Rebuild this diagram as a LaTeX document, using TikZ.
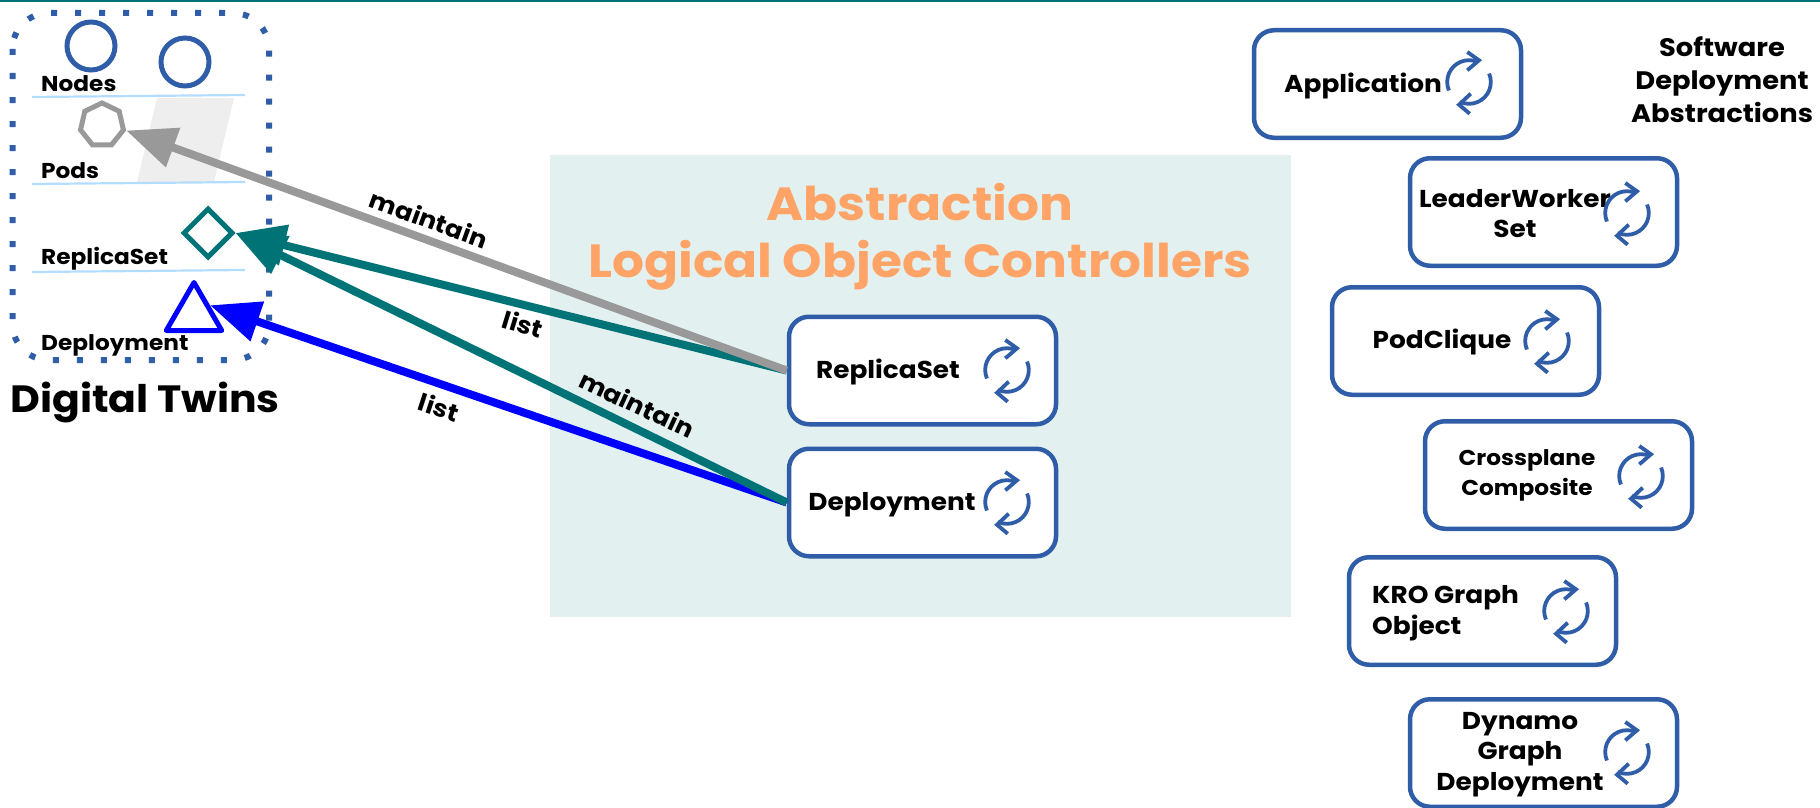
\documentclass[tikz,border=0pt]{standalone}
\usepackage{fontspec}
\setmainfont[FakeStretch=1.08]{Poppins}
\usetikzlibrary{arrows.meta,shapes.geometric}
\definecolor{bluebox}{HTML}{2F5DA8}
\definecolor{tealc}{HTML}{007377}
\definecolor{panel}{HTML}{E3F0F0}
\definecolor{sep}{HTML}{B3DDFF}
\definecolor{greyc}{HTML}{999999}
\definecolor{para}{HTML}{EEEEEE}
\definecolor{orangec}{HTML}{FFA366}
\definecolor{bluec}{HTML}{0000FF}
\tikzset{
  x=1pt,y=1pt,
  ctrl/.style={draw=bluebox,line width=4.5pt,rounded corners=20pt,fill=white,minimum width=267pt,minimum height=107.5pt,inner sep=0pt},
  lbl/.style={font=\fontsize{24.4}{30.7}\selectfont\bfseries,align=center,inner sep=0pt,text=black},
  small/.style={font=\fontsize{21.5}{26}\selectfont\bfseries,anchor=base west,inner sep=0pt,text=black},
  edgelbl/.style={font=\fontsize{24}{26}\selectfont\bfseries,inner sep=0pt,text=black},
  heading/.style={font=\fontsize{25.3}{33}\selectfont\bfseries,align=center,inner sep=0pt,text=black},
  conn/.style={line width=8pt,-{Triangle[length=50pt,width=40pt]}},
  sepline/.style={draw=sep,line width=2.2pt},
  syncicon/.pic={
    \draw[bluebox,line width=3.8pt] (-20.07,-8.5) arc[start angle=203,end angle=66,radius=21.8];
    \draw[bluebox,line width=3.8pt] (-1.7,30) -- (10,21.7) -- (-1.7,11.7);
    \draw[bluebox,line width=3.8pt] (20.07,8.5) arc[start angle=23,end angle=-114,radius=21.8];
    \draw[bluebox,line width=3.8pt] (1.7,-11.7) -- (-10,-22.7) -- (0.7,-31.7);
  }
}
\begin{document}
\begin{tikzpicture}
\useasboundingbox (0,0) rectangle (1820,-808);
\fill[tealc] (0,0) rectangle (1820,-2);
% panel
\fill[panel] (550,-155) rectangle (1291,-617);
\node[font=\fontsize{46.5}{57}\selectfont\bfseries,text=orangec,align=center,inner sep=0pt] (title) at (920,-236.5) {Abstraction\\Logical Object Controllers};
% digital twin frame
\draw[bluebox,line width=6pt,dash pattern=on 6pt off 18pt,rounded corners=36pt] (12.5,-13) rectangle (269,-360);
\fill[para] (157,-98) -- (234,-98) -- (214,-182) -- (137,-182) -- cycle;
\draw[sepline] (32,-97) -- (245,-95);
\draw[sepline] (32,-184) -- (245,-182);
\draw[sepline] (32,-272) -- (245,-270);
\node[circle,draw=bluebox,line width=5pt,minimum size=48pt,inner sep=0pt] (n1) at (91,-46) {};
\node[circle,draw=bluebox,line width=5pt,minimum size=48pt,inner sep=0pt] (n2) at (185,-62) {};
\node[regular polygon,regular polygon sides=7,draw=greyc,line width=5pt,minimum size=44pt,inner sep=0pt] (hept) at (102,-125) {};
\node[diamond,draw=tealc,line width=5pt,minimum size=50pt,inner sep=0pt] (dia) at (208,-233) {};
\node[regular polygon,regular polygon sides=3,draw=bluec,line width=5pt,line join=round,minimum size=64pt,inner sep=0pt] (tri) at (194,-314.5) {};
\node[small] (tn) at (41,-91) {Nodes};
\node[small] (tp) at (41,-178) {Pods};
\node[small] (tr) at (41,-264.5) {ReplicaSet};
\node[small] (td) at (41,-350) {Deployment};
\node[font=\fontsize{38}{44}\selectfont\bfseries,anchor=base west,inner sep=0pt] (dt) at (10,-412) {Digital Twins};
% controllers
\node[ctrl] (rs) at (922.5,-370.5) {};
\node[ctrl] (dep) at (922.5,-502.5) {};
\draw[conn,tealc] (rs.west) -- (dia.east);
\draw[conn,bluec] (dep.west) -- (tri.side 3);
\draw[conn,tealc] (dep.west) -- (dia.east);
\draw[conn,greyc] (rs.west) -- (hept.corner 6);
\node[lbl] (rst) at (888,-371.5) {ReplicaSet};
\node[lbl] (dept) at (892,-504.5) {Deployment};
\pic at (1007,-370) {syncicon};
\pic at (1007,-502) {syncicon};
\node[edgelbl,rotate=-20] (l1) at (429,-219) {maintain};
\node[edgelbl,rotate=-17] (l2) at (523,-324) {list};
\node[edgelbl,rotate=-25] (l3) at (637,-404) {maintain};
\node[edgelbl,rotate=-18] (l4) at (439,-407) {list};
% abstractions
\node[ctrl] (app) at (1387.5,-84) {};
\node[ctrl] (lws) at (1543.5,-212) {};
\node[ctrl] (pc) at (1465.5,-341) {};
\node[ctrl] (cp) at (1558.5,-475) {};
\node[ctrl] (kro) at (1482.5,-611) {};
\node[ctrl] (dyn) at (1543.5,-753) {};
\node[lbl] (appt) at (1363,-85.5) {Application};
\node[lbl] (lwst) at (1515,-213.5) {LeaderWorker\\Set};
\node[lbl] (pct) at (1442,-341.5) {PodClique};
\node[lbl,font=\fontsize{21.5}{30.7}\selectfont\bfseries] (cpt) at (1527,-475.5) {Crossplane\\Composite};
\node[lbl,align=left,anchor=west] (krot) at (1372,-613.5) {KRO Graph\\Object};
\node[lbl] (dynt) at (1520,-754.5) {Dynamo\\Graph\\Deployment};
\pic at (1469,-82) {syncicon};
\pic at (1627,-213) {syncicon};
\pic at (1547,-341) {syncicon};
\pic at (1641,-476) {syncicon};
\pic at (1566,-611) {syncicon};
\pic at (1627,-752) {syncicon};
\node[heading] (sda) at (1722,-80) {Software\\Deployment\\Abstractions};
\end{tikzpicture}
\end{document}
